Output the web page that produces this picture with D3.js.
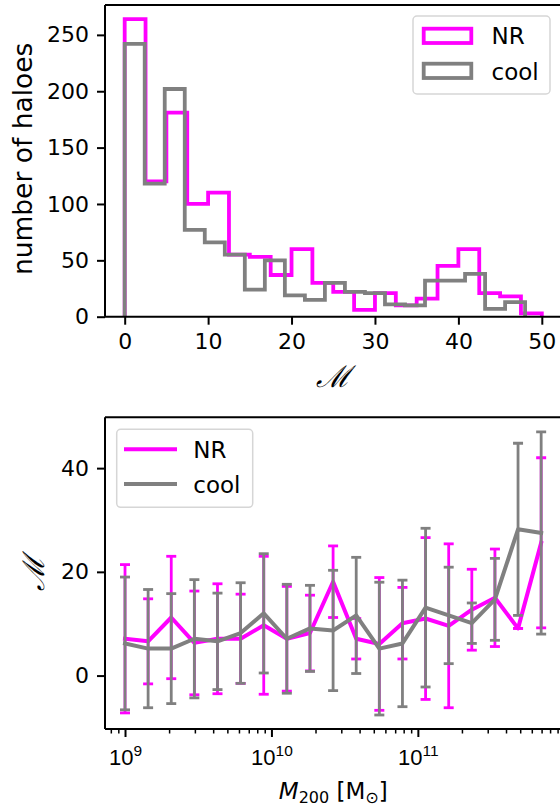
<!DOCTYPE html>
<html>
<head>
<meta charset="utf-8">
<script src="https://cdn.jsdelivr.net/npm/d3@7"></script>
<style>
  body { margin: 0; background: #fff; }
  svg { display: block; font-family: "DejaVu Sans", sans-serif; }
</style>
</head>
<body>
<svg id="fig" width="560" height="808"></svg>
<script>
// ---- histogram of M (counts per bin) ----
const nrEdges   = [0, 2.5, 5, 7.5, 10, 12.5, 15, 17.5, 20, 22.5, 25, 27.5, 30, 32.5, 35, 37.5, 40, 42.5, 45, 47.5, 50];
const nrCounts  = [264, 120, 181, 100, 110, 55, 53, 37, 60, 30, 22, 6, 21, 10, 16, 45, 60, 21, 18, 3];
const coolEdges = [0, 2.4, 4.8, 7.2, 9.6, 12, 14.4, 16.8, 19.2, 21.6, 24, 26.4, 28.8, 31.2, 33.6, 36, 38.4, 40.8, 43.2, 45.6, 48];
const coolCounts = [242, 118, 202, 77, 66, 55, 24, 50, 19, 15, 30, 22, 21, 11, 10, 32, 32, 38, 7, 13];
const histXTicks = [0, 10, 20, 30, 40, 50];
const histYTicks = [0, 50, 100, 150, 200, 250];

// ---- M versus halo mass (mean and scatter per mass bin) ----
const massBins = [1.000e9, 1.438e9, 2.069e9, 2.976e9, 4.281e9, 6.158e9, 8.859e9, 1.274e10, 1.833e10, 2.637e10,
                  3.793e10, 5.456e10, 7.848e10, 1.129e11, 1.624e11, 2.336e11, 3.360e11, 4.833e11, 6.952e11];
const nrMean   = [7.1, 6.6, 11.2, 6.3, 7.1, 7.1, 9.7, 7.1, 8.2, 18.1, 7.1, 6.1, 10.1, 11.0, 9.6, 12.7, 15.0, 9.1, 25.6];
const nrErr    = [14.3, 8.2, 11.8, 10.0, 10.6, 8.6, 13.3, 10.1, 7.3, 6.9, 3.9, 12.8, 6.9, 15.6, 15.8, 7.8, 9.4, 0, 16.4];
const coolMean = [6.2, 5.2, 5.2, 7.1, 6.6, 8.2, 12.0, 7.1, 9.1, 8.7, 11.6, 5.2, 6.2, 13.1, 11.6, 10.1, 14.7, 28.2, 27.5];
const coolErr  = [12.8, 11.4, 10.6, 11.4, 9.3, 9.7, 11.5, 10.5, 8.3, 11.6, 11.2, 12.8, 12.2, 15.3, 9.3, 3.9, 7.9, 16.6, 19.5];
const massMajorTicks = [1e9, 1e10, 1e11];
const massMajorExp   = ["9", "10", "11"];
const meanYTicks = [0, 20, 40];

const seriesNames = ["NR", "cool"];
const MAGENTA = "#ff00ff", GREY = "#808080";
const FS = 22;

const svg = d3.select("#fig");

function styleAxis(g, width) {
  g.select(".domain").remove();
  g.selectAll(".tick line").attr("stroke", "#000").attr("stroke-width", width);
  g.selectAll(".tick text").attr("fill", "#000").attr("font-size", FS)
    .attr("font-family", "DejaVu Sans, sans-serif");
}

function frame(box) {
  const g = svg.append("g").attr("fill", "none").attr("stroke", "#000").attr("stroke-width", 2);
  g.append("line").attr("x1", box.left).attr("x2", box.left).attr("y1", box.top).attr("y2", box.bottom);
  g.append("line").attr("x1", box.left).attr("x2", box.right).attr("y1", box.bottom).attr("y2", box.bottom);
  g.append("line").attr("x1", box.left).attr("x2", box.right).attr("y1", box.top).attr("y2", box.top);
  g.append("line").attr("x1", box.right).attr("x2", box.right).attr("y1", box.top).attr("y2", box.bottom);
}

function clip(id, box) {
  svg.append("clipPath").attr("id", id).append("rect")
    .attr("x", box.left).attr("y", box.top)
    .attr("width", box.right - box.left).attr("height", box.bottom - box.top);
}

// ================= top panel: histogram =================
const hb = { left: 105, right: 561, top: 5, bottom: 316.7 };
const xH = d3.scaleLinear().domain([-2.36, 52.3]).range([hb.left, hb.right]);
const yH = d3.scaleLinear().domain([0, 276.5]).range([hb.bottom, hb.top]);
clip("clipH", hb);

function stepPath(edges, counts) {
  const pts = [[edges[0], 0]];
  counts.forEach((c, i) => { pts.push([edges[i], c]); pts.push([edges[i + 1], c]); });
  pts.push([edges[edges.length - 1], 0]);
  return d3.line().x(d => xH(d[0])).y(d => yH(d[1]))(pts);
}

const hg = svg.append("g").attr("clip-path", "url(#clipH)");
[[nrEdges, nrCounts, MAGENTA], [coolEdges, coolCounts, GREY]].forEach(([e, c, col]) => {
  hg.append("path").attr("d", stepPath(e, c)).attr("fill", "none")
    .attr("stroke", col).attr("stroke-width", 3.8).attr("stroke-linejoin", "miter");
});

svg.append("g").attr("transform", `translate(0,${hb.bottom})`)
  .call(d3.axisBottom(xH).tickValues(histXTicks).tickSize(8).tickPadding(9).tickFormat(d3.format("d")))
  .call(g => styleAxis(g, 2));
svg.append("g").attr("transform", `translate(${hb.left},0)`)
  .call(d3.axisLeft(yH).tickValues(histYTicks).tickSize(8).tickPadding(8).tickFormat(d3.format("d")))
  .call(g => styleAxis(g, 2));
frame(hb);

svg.append("text").attr("transform", `translate(32,${(hb.top + hb.bottom) / 2 - 2}) rotate(-90)`)
  .attr("text-anchor", "middle").attr("font-size", 26.5).text("number of haloes");
svg.append("text").attr("x", (hb.left + hb.right) / 2).attr("y", 387)
  .attr("text-anchor", "middle").attr("font-size", 30).attr("font-family", "DejaVu Serif")
  .attr("font-style", "italic").text("ℳ");

// legend (top)
const lg1 = svg.append("g");
lg1.append("rect").attr("x", 413).attr("y", 16).attr("width", 137).attr("height", 78).attr("rx", 4)
  .attr("fill", "#fff").attr("fill-opacity", 0.8).attr("stroke", "#d6d6d6").attr("stroke-width", 1.5);
[MAGENTA, GREY].forEach((col, i) => {
  lg1.append("rect").attr("x", 423.7).attr("y", 28.7 + i * 35).attr("width", 47.6).attr("height", 14.3)
    .attr("fill", "none").attr("stroke", col).attr("stroke-width", 3.8);
  lg1.append("text").attr("x", 491.5).attr("y", 44 + i * 35.5).attr("font-size", 23).text(seriesNames[i]);
});

// ================= bottom panel: M vs M200 =================
const mb = { left: 105, right: 561.5, top: 417.3, bottom: 729 };
const xM = d3.scaleLog().domain([Math.pow(10, 8.8633), Math.pow(10, 11.981)]).range([mb.left, mb.right]);
const yM = d3.scaleLinear().domain([-10.3, 49.8]).range([mb.bottom, mb.top]);
clip("clipM", mb);

const mg = svg.append("g").attr("clip-path", "url(#clipM)");
[[nrMean, nrErr, MAGENTA], [coolMean, coolErr, GREY]].forEach(([mean, err, col]) => {
  const pts = massBins.map((m, i) => [m, mean[i], err[i]]);
  const s = mg.append("g");
  s.append("path").attr("d", d3.line().x(d => xM(d[0])).y(d => yM(d[1]))(pts))
    .attr("fill", "none").attr("stroke", col).attr("stroke-width", 4)
    .attr("stroke-linejoin", "round").attr("stroke-linecap", "square");
  s.selectAll("line.bar").data(pts).join("line").attr("class", "bar")
    .attr("x1", d => xM(d[0])).attr("x2", d => xM(d[0]))
    .attr("y1", d => yM(d[1] - d[2])).attr("y2", d => yM(d[1] + d[2]))
    .attr("stroke", col).attr("stroke-width", 2.8);
  [-1, 1].forEach(sign => {
    s.selectAll(null).data(pts).join("line")
      .attr("x1", d => xM(d[0]) - 5).attr("x2", d => xM(d[0]) + 5)
      .attr("y1", d => yM(d[1] + sign * d[2])).attr("y2", d => yM(d[1] + sign * d[2]))
      .attr("stroke", col).attr("stroke-width", 2.8);
  });
});

// log axis: minor ticks then labelled decades
const minorTicks = [];
[8, 9, 10, 11].forEach(e => { for (let k = 2; k <= 9; k++) minorTicks.push(k * Math.pow(10, e)); });
const dom = xM.domain();
svg.append("g").attr("transform", `translate(0,${mb.bottom})`)
  .call(d3.axisBottom(xM).tickValues(minorTicks.filter(v => v >= dom[0] && v <= dom[1])).tickSize(4.5).tickFormat(""))
  .call(g => styleAxis(g, 1.5));
const xMaj = svg.append("g").attr("transform", `translate(0,${mb.bottom})`)
  .call(d3.axisBottom(xM).tickValues(massMajorTicks).tickSize(8).tickFormat(""))
  .call(g => styleAxis(g, 2));
xMaj.selectAll(".tick").each(function (d, i) {
  const t = d3.select(this).append("text").attr("y", 36).attr("text-anchor", "middle")
    .attr("font-size", FS).attr("fill", "#000");
  t.append("tspan").text("10");
  t.append("tspan").attr("font-size", 15.5).attr("dy", -9).text(massMajorExp[i]);
});
svg.append("g").attr("transform", `translate(${mb.left},0)`)
  .call(d3.axisLeft(yM).tickValues(meanYTicks).tickSize(8).tickPadding(8).tickFormat(d3.format("d")))
  .call(g => styleAxis(g, 2));
frame(mb);

const xl = svg.append("text").attr("x", (mb.left + mb.right) / 2).attr("y", 799)
  .attr("text-anchor", "middle").attr("font-size", 23);
xl.append("tspan").attr("font-style", "italic").text("M");
xl.append("tspan").attr("font-size", 16).attr("dy", 3.5).text("200");
xl.append("tspan").attr("dy", -3.5).text(" [M");
xl.append("tspan").attr("font-size", 16).attr("dy", 3.5).text("⊙");
xl.append("tspan").attr("dy", -3.5).text("]");

svg.append("text").attr("transform", `translate(44,${(mb.top + mb.bottom) / 2}) rotate(-90)`)
  .attr("text-anchor", "middle").attr("font-size", 30).attr("font-family", "DejaVu Serif")
  .attr("font-style", "italic").text("ℳ");

// legend (bottom)
const lg2 = svg.append("g");
lg2.append("rect").attr("x", 116.7).attr("y", 429.3).attr("width", 136).attr("height", 78).attr("rx", 4)
  .attr("fill", "#fff").attr("fill-opacity", 0.8).attr("stroke", "#d6d6d6").attr("stroke-width", 1.5);
[MAGENTA, GREY].forEach((col, i) => {
  lg2.append("line").attr("x1", 124).attr("x2", 177).attr("y1", 449.3 + i * 34.7).attr("y2", 449.3 + i * 34.7)
    .attr("stroke", col).attr("stroke-width", 4);
  lg2.append("text").attr("x", 193.3).attr("y", 458 + i * 35).attr("font-size", 23).text(seriesNames[i]);
});
</script>
</body>
</html>
